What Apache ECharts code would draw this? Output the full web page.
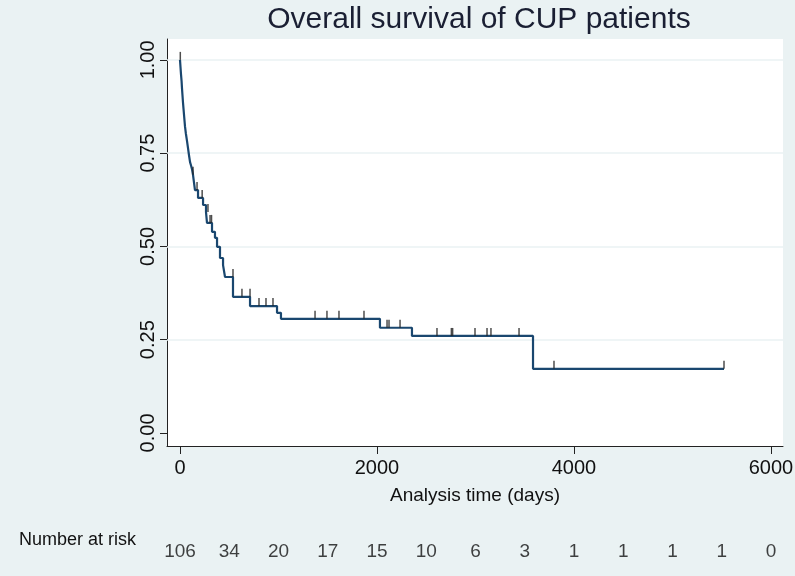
<!DOCTYPE html>
<html>
<head>
    <meta charset="utf-8">
    <title>Overall survival of CUP patients</title>
    <script src="https://cdn.jsdelivr.net/npm/echarts@6/dist/echarts.min.js"></script>
    <style>
        html, body { margin: 0; padding: 0; background: #eaf2f3; }
    </style>
</head>
<body>
    <div id="kmView" style="width: 795px;height: 576px;"></div>
</body>

<script>
    // Kaplan-Meier steps (time in days, survival after the event)
    var kmTime = [0, 5, 10, 16, 20, 25, 30, 36, 42, 51, 60, 71, 81, 91, 102, 112, 122, 132, 152, 183, 234, 264, 274, 325, 355, 376, 406, 437, 457, 538, 711, 985, 1025, 2030, 2355, 3584, 5523];
    var kmSurv = [1.0, 0.981, 0.962, 0.943, 0.925, 0.906, 0.887, 0.868, 0.849, 0.821, 0.802, 0.783, 0.764, 0.745, 0.726, 0.717, 0.707, 0.692, 0.651, 0.630, 0.611, 0.592, 0.563, 0.539, 0.523, 0.499, 0.469, 0.450, 0.418, 0.365, 0.340, 0.322, 0.306, 0.282, 0.260, 0.172, 0.172];

    // censored observations
    var censorTime = [3, 132, 173, 225, 284, 305, 320, 538, 629, 711, 802, 873, 944, 1371, 1492, 1614, 1868, 2102, 2122, 2234, 2609, 2755, 2768, 2995, 3117, 3157, 3442, 3797, 5523];
    var censorSurv = [1.0, 0.692, 0.651, 0.630, 0.592, 0.563, 0.563, 0.418, 0.365, 0.365, 0.340, 0.340, 0.340, 0.306, 0.306, 0.306, 0.306, 0.282, 0.282, 0.282, 0.260, 0.260, 0.260, 0.260, 0.260, 0.260, 0.260, 0.172, 0.172];

    var xTicks = [0, 2000, 4000, 6000];
    var yTicks = [0, 0.25, 0.5, 0.75, 1];
    var gridTicks = [0.25, 0.5, 0.75, 1];

    var riskTime = [0, 500, 1000, 1500, 2000, 2500, 3000, 3500, 4000, 4500, 5000, 5500, 6000];
    var riskCount = [106, 34, 20, 17, 15, 10, 6, 3, 1, 1, 1, 1, 0];

    var font = '"Liberation Sans", Arial, sans-serif';
    var ink = '#111111';

    var kmData = kmTime.map(function(t, i){ return [t, kmSurv[i]]; });
    var censorData = censorTime.map(function(t, i){ return [t, censorSurv[i]]; });
    var riskData = riskTime.map(function(t, i){ return [t, 0.5, riskCount[i]]; });

    var option = {
        backgroundColor: '#eaf2f3',
        animation: false,
        title: [{
            text: 'Overall survival of CUP patients',
            left: 474,
            textAlign: 'center',
            top: 0,
            textStyle: { fontFamily: font, fontSize: 30, fontWeight: 'normal', color: '#1a1f33' }
        }, {
            text: 'Number at risk',
            left: 14,
            top: 526,
            textStyle: { fontFamily: font, fontSize: 18, fontWeight: 'normal', color: ink }
        }],
        grid: [
            { left: 167, right: 12, top: 39, bottom: 130, outerBoundsMode: 'none', show: true, backgroundColor: '#ffffff', borderWidth: 0 },
            { left: 167, right: 12, top: 540, height: 24, outerBoundsMode: 'none' }
        ],
        xAxis: [{
            type: 'value',
            gridIndex: 0,
            min: -132,
            max: 6122,
            name: 'Analysis time (days)',
            nameLocation: 'middle',
            nameGap: 40,
            nameTextStyle: { fontFamily: font, fontSize: 19, color: ink },
            axisLine: { show: true, onZero: false, lineStyle: { color: '#222', width: 1 } },
            axisTick: { show: true, customValues: xTicks, length: 8, lineStyle: { color: '#222' } },
            axisLabel: {
                customValues: xTicks,
                fontFamily: font,
                fontSize: 20,
                color: ink,
                margin: 12,
                formatter: function(v){ return String(v); }
            },
            splitLine: { show: false }
        }, {
            type: 'value',
            gridIndex: 1,
            min: -132,
            max: 6122,
            show: false
        }],
        yAxis: [{
            type: 'value',
            gridIndex: 0,
            min: -0.035,
            max: 1.056,
            axisLine: { show: true, onZero: false, lineStyle: { color: '#222', width: 1 } },
            axisTick: { show: true, customValues: yTicks, length: 7, lineStyle: { color: '#222' } },
            axisLabel: {
                customValues: yTicks,
                rotate: 90,
                fontFamily: font,
                fontSize: 20,
                color: ink,
                margin: 9,
                formatter: function(v){ return v.toFixed(2); }
            },
            splitLine: { show: false }
        }, {
            type: 'value',
            gridIndex: 1,
            min: 0,
            max: 1,
            show: false
        }],
        series: [{
            type: 'line',
            name: 'KM',
            xAxisIndex: 0,
            yAxisIndex: 0,
            step: 'end',
            data: kmData,
            showSymbol: false,
            symbol: 'none',
            lineStyle: { color: '#1a476f', width: 2.2 },
            markLine: {
                silent: true,
                symbol: 'none',
                label: { show: false },
                lineStyle: { color: '#eaf2f3', width: 1.5, type: 'solid' },
                data: gridTicks.map(function(v){ return { yAxis: v }; }),
                z: 1
            },
            z: 3
        }, {
            type: 'scatter',
            name: 'censored',
            xAxisIndex: 0,
            yAxisIndex: 0,
            data: censorData,
            symbol: 'rect',
            symbolSize: [1.5, 8],
            symbolOffset: [0, -4],
            itemStyle: { color: '#222222' },
            clip: false,
            z: 4
        }, {
            type: 'scatter',
            name: 'risk',
            xAxisIndex: 1,
            yAxisIndex: 1,
            data: riskData,
            symbolSize: 0,
            label: {
                show: true,
                position: 'inside',
                fontFamily: font,
                fontSize: 19,
                color: ink,
                formatter: function(p){ return String(p.value[2]); }
            }
        }]
    };

    var kmChart = echarts.init(document.getElementById('kmView'));
    kmChart.setOption(option);
</script>
</html>
